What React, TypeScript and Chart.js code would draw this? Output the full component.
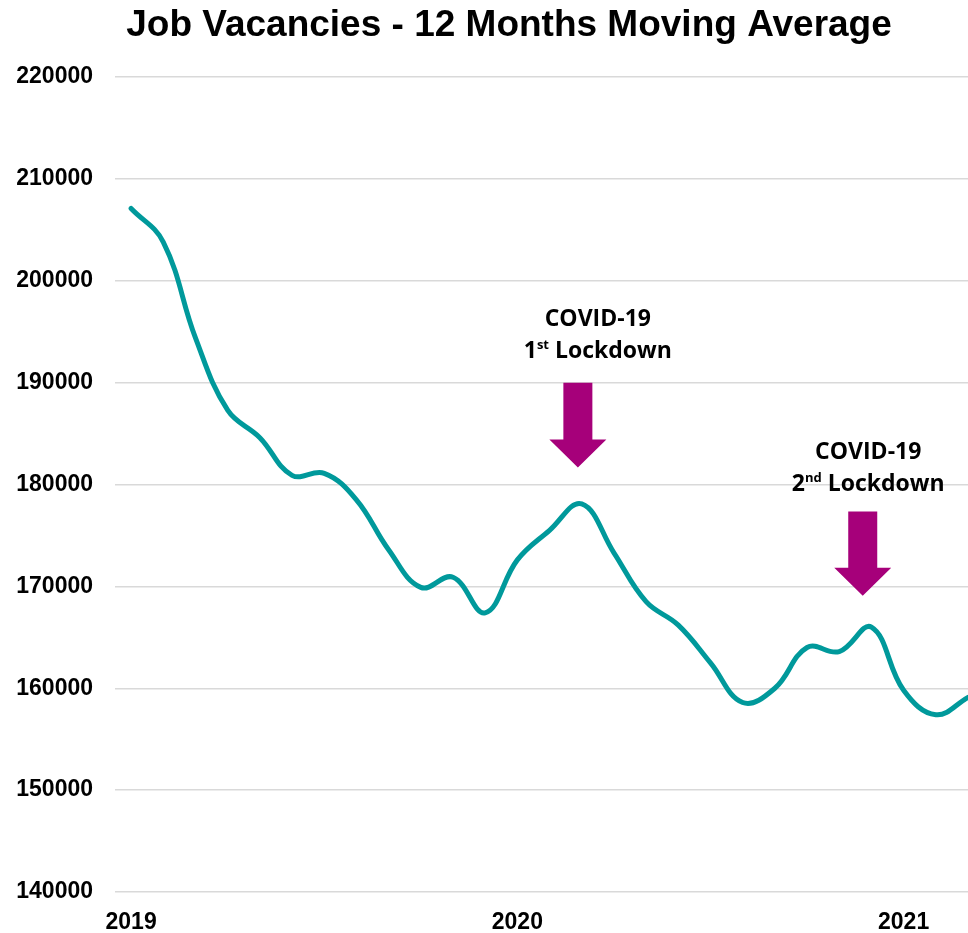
import { useEffect, useRef } from 'react';
import { Chart, registerables } from 'chart.js';

Chart.register(...registerables);

// ---------- data ----------
const TITLE = 'Job Vacancies - 12 Months Moving Average';

const months = [
  'Jan 2019', 'Feb 2019', 'Mar 2019', 'Apr 2019', 'May 2019', 'Jun 2019',
  'Jul 2019', 'Aug 2019', 'Sep 2019', 'Oct 2019', 'Nov 2019', 'Dec 2019',
  'Jan 2020', 'Feb 2020', 'Mar 2020', 'Apr 2020', 'May 2020', 'Jun 2020',
  'Jul 2020', 'Aug 2020', 'Sep 2020', 'Oct 2020', 'Nov 2020', 'Dec 2020',
  'Jan 2021', 'Feb 2021', 'Mar 2021',
];

const vacancies = [
  207100, 203800, 194400, 187300, 184600, 180900,
  181100, 178500, 173600, 169900, 170900, 167400,
  172600, 175500, 178100, 173300, 168500, 166200,
  162500, 158600, 160000, 164000, 163600, 166000,
  159800, 157400, 159100,
];

const yearLabels = ['2019', '2020', '2021'];
const yearTickIndex = [0, 12, 24];

const yMin = 140000;
const yMax = 220000;
const yStep = 10000;

// annotations (positions in data units: month index / vacancies)
const noteLine1 = ['COVID-19', 'COVID-19'];
const noteOrdinal = ['1', '2'];
const noteSuffix = ['st', 'nd'];
const noteWord = [' Lockdown', ' Lockdown'];
const noteX = [14.5, 22.9];
const noteBaseY = [195600, 182550];
const arrowX = [13.88, 22.73];
const arrowTopY = [190000, 177350];
const arrowTipY = [181670, 169090];

// ---------- styles ----------
const LINE_COLOR = '#00999b';
const ARROW_COLOR = '#a6007a';
const GRID_COLOR = '#d9d9d9';
const AXIS_FONT = "'Liberation Sans', Arial, sans-serif";
const NOTE_FONT = "'Open Sans', sans-serif";

const annotationPlugin = {
  id: 'lockdownNotes',
  afterDraw(chart: any) {
    const ctx = chart.ctx as CanvasRenderingContext2D;
    const xs = chart.scales.x;
    const ys = chart.scales.y;
    ctx.save();

    // title
    ctx.fillStyle = '#000';
    ctx.font = `bold 37px ${AXIS_FONT}`;
    ctx.textAlign = 'center';
    ctx.textBaseline = 'alphabetic';
    ctx.fillText(TITLE, 509, 36);

    for (let i = 0; i < noteLine1.length; i++) {
      // arrow
      const ax = xs.getPixelForValue(arrowX[i]);
      const top = ys.getPixelForValue(arrowTopY[i]);
      const tip = ys.getPixelForValue(arrowTipY[i]);
      const headH = 28;
      const shaftW = 29;
      const headW = 57;
      const base = tip - headH;
      ctx.fillStyle = ARROW_COLOR;
      ctx.beginPath();
      ctx.moveTo(ax - shaftW / 2, top);
      ctx.lineTo(ax + shaftW / 2, top);
      ctx.lineTo(ax + shaftW / 2, base);
      ctx.lineTo(ax + headW / 2, base);
      ctx.lineTo(ax, tip);
      ctx.lineTo(ax - headW / 2, base);
      ctx.lineTo(ax - shaftW / 2, base);
      ctx.closePath();
      ctx.fill();

      // text
      const tx = xs.getPixelForValue(noteX[i]);
      const ty = ys.getPixelForValue(noteBaseY[i]);
      ctx.fillStyle = '#000';
      ctx.textBaseline = 'alphabetic';
      ctx.textAlign = 'center';
      ctx.font = `bold 23px ${NOTE_FONT}`;
      ctx.fillText(noteLine1[i], tx, ty);

      const big = `bold 23px ${NOTE_FONT}`;
      const small = `bold 13px ${NOTE_FONT}`;
      ctx.font = big;
      const w1 = ctx.measureText(noteOrdinal[i]).width;
      const w3 = ctx.measureText(noteWord[i]).width;
      ctx.font = small;
      const w2 = ctx.measureText(noteSuffix[i]).width;
      const total = w1 + w2 + w3;
      let x = tx - total / 2;
      const y2 = ty + 32;
      ctx.textAlign = 'left';
      ctx.font = big;
      ctx.fillText(noteOrdinal[i], x, y2);
      x += w1;
      ctx.font = small;
      ctx.fillText(noteSuffix[i], x, y2 - 9);
      x += w2;
      ctx.font = big;
      ctx.fillText(noteWord[i], x, y2);
    }
    ctx.restore();
  },
};

export default function App() {
  const ref = useRef<HTMLCanvasElement>(null);

  useEffect(() => {
    if (!ref.current) return;
    const chart = new Chart(ref.current, {
      type: 'line',
      data: {
        labels: months,
        datasets: [
          {
            label: 'Job vacancies (12 month moving average)',
            data: vacancies.map((v, i) => ({ x: i, y: v })),
            borderColor: LINE_COLOR,
            borderWidth: 5,
            pointRadius: 0,
            tension: 0.4,
            fill: false,
            borderCapStyle: 'round',
            borderJoinStyle: 'round',
          },
        ],
      },
      options: {
        animation: false,
        responsive: true,
        maintainAspectRatio: false,
        layout: { padding: { top: 77, right: 0, left: 0, bottom: 0 } },
        plugins: {
          legend: { display: false },
          title: { display: false },
          tooltip: { enabled: false },
        },
        scales: {
          x: {
            type: 'linear',
            min: -0.5,
            max: months.length - 1,
            grid: { display: false, drawTicks: false },
            border: { display: false },
            afterBuildTicks: (axis: any) => {
              axis.ticks = yearTickIndex.map((v) => ({ value: v }));
            },
            afterFit: (axis: any) => {
              axis.height = 41;
            },
            ticks: {
              autoSkip: false,
              maxRotation: 0,
              padding: 17,
              color: '#000',
              font: { family: AXIS_FONT, size: 23, weight: 'bold' },
              callback: (v: any) => {
                const k = yearTickIndex.indexOf(Number(v));
                return k >= 0 ? yearLabels[k] : '';
              },
            },
          },
          y: {
            min: yMin,
            max: yMax,
            grid: { color: GRID_COLOR, lineWidth: 1.5, drawTicks: false },
            border: { display: false },
            afterFit: (axis: any) => {
              axis.width = 115;
            },
            ticks: {
              stepSize: yStep,
              padding: 22,
              color: '#000',
              font: { family: AXIS_FONT, size: 23, weight: 'bold' },
              callback: (v: any) => String(v),
            },
          },
        },
      },
      plugins: [annotationPlugin],
    });
    return () => chart.destroy();
  }, []);

  return (
    <div style={{ position: 'absolute', left: 0, top: 0, width: 968, height: 933, background: '#fff' }}>
      <canvas ref={ref} />
    </div>
  );
}
